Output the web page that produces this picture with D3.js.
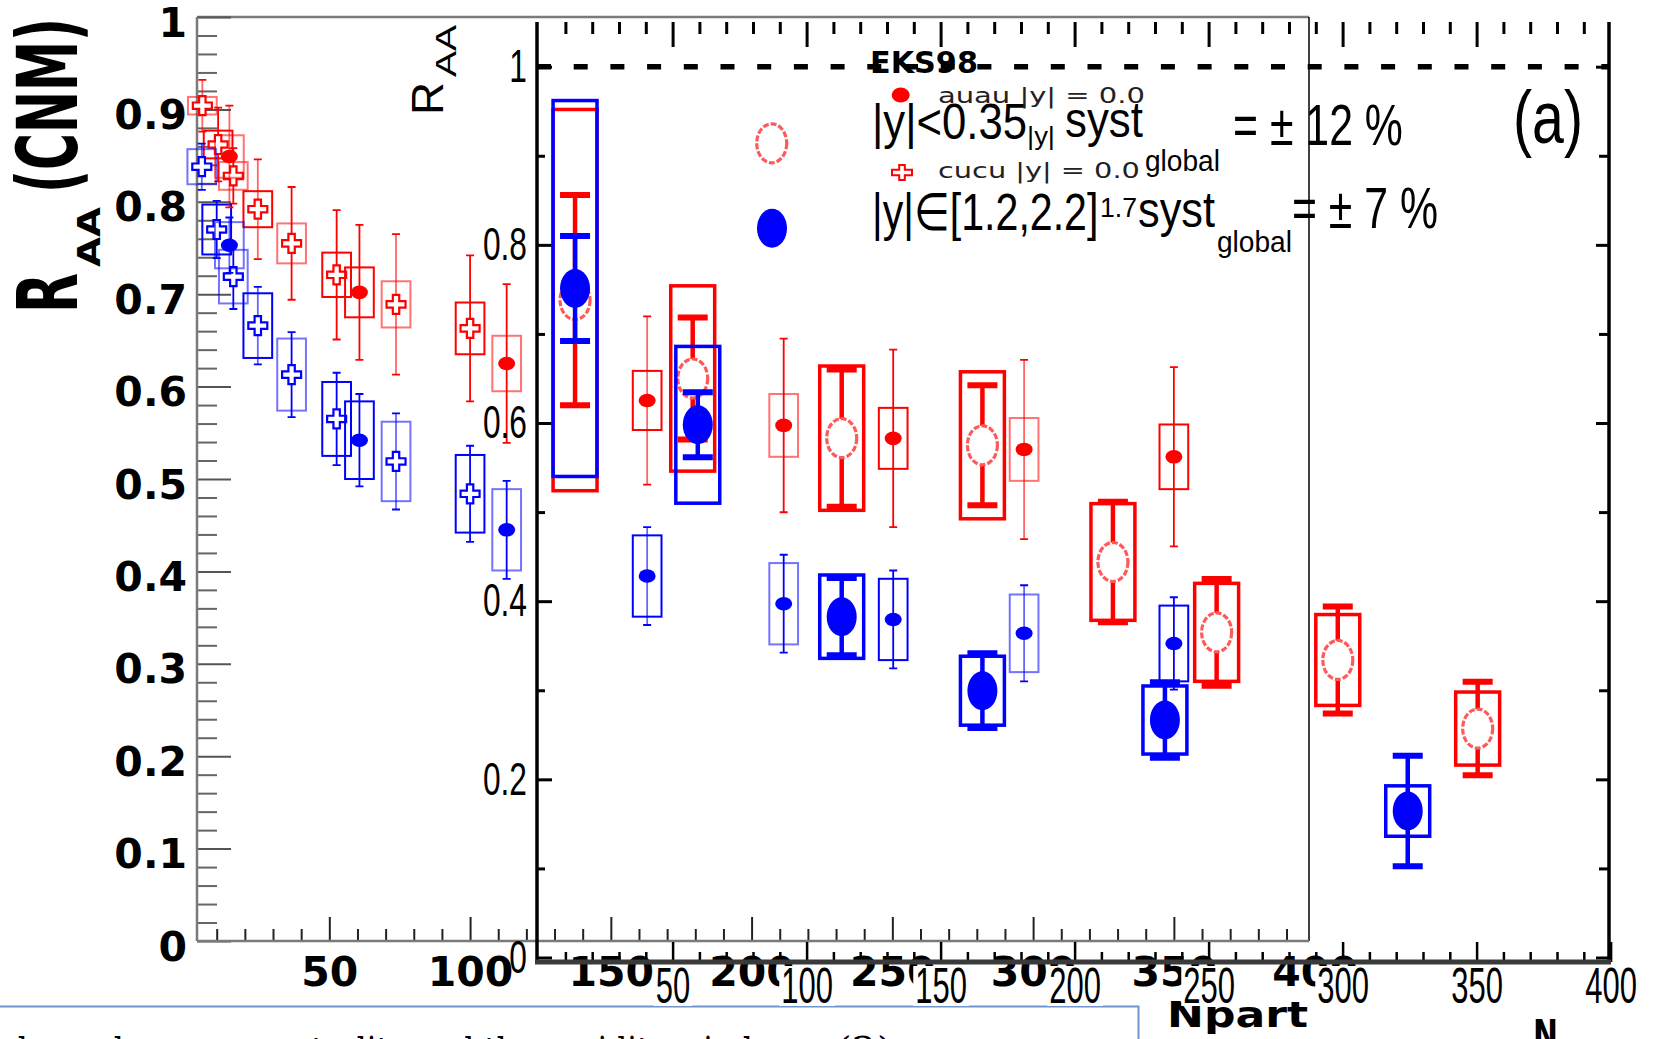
<!DOCTYPE html>
<html>
<head>
<meta charset="utf-8">
<script src="https://cdn.jsdelivr.net/npm/d3@7"></script>
<style>
  html, body { margin: 0; padding: 0; background: #fff; overflow: hidden; }
  svg { display: block; }
</style>
</head>
<body>
<svg id="chart" width="1656" height="1039"></svg>
<script>
// ---------------- data ----------------
// Panel A (CNM, small markers): Cu+Cu crosses, Au+Au filled circles
const cuMidNpart = [4.9, 10.5, 15.9, 24.6, 36.6, 52.6, 73.7, 100];
const cuMidRaa   = [0.904, 0.862, 0.828, 0.792, 0.755, 0.721, 0.689, 0.663];
const cuMidStat  = [0.028, 0.040, 0.030, 0.054, 0.061, 0.070, 0.076, 0.079];
const cuMidSyst  = [0.0095, 0.015, 0.015, 0.0195, 0.0216, 0.024, 0.025, 0.028];

const cuFwdNpart = [4.7, 10, 15.9, 24.6, 36.6, 52.6, 73.7, 100];
const cuFwdRaa   = [0.838, 0.770, 0.719, 0.666, 0.613, 0.565, 0.519, 0.484];
const cuFwdStat  = [0.025, 0.031, 0.035, 0.042, 0.046, 0.050, 0.052, 0.052];
const cuFwdSyst  = [0.019, 0.027, 0.029, 0.035, 0.039, 0.040, 0.043, 0.042];

const auNpart    = [14.5, 60.7, 113, 162.9, 211.4, 250.3, 296.8, 350];
const auMidRaa   = [0.849, 0.702, 0.625, 0.585, 0.558, 0.544, 0.532, 0.524];
const auMidStat  = [0.055, 0.073, 0.086, 0.091, 0.094, 0.096, 0.097, 0.097];
const auMidSyst  = [0.023, 0.027, 0.030, 0.032, 0.034, 0.033, 0.034, 0.035];
const auFwdRaa   = [0.753, 0.542, 0.445, 0.395, 0.365, 0.348, 0.333, 0.322];
const auFwdStat  = [0.030, 0.050, 0.053, 0.053, 0.053, 0.053, 0.052, 0.050];
const auFwdSyst  = [0.025, 0.042, 0.044, 0.044, 0.044, 0.044, 0.042, 0.041];

// Panel B (large markers): |y|<0.35 open circles, |y| in [1.2,2.2] filled circles
const midNpart = [13.6, 57.5, 113.1, 165.6, 214.3, 253.0, 298.2, 350.4];
const midRaa   = [0.738, 0.650, 0.583, 0.575, 0.444, 0.365, 0.334, 0.257];
const midStat  = [0.118, 0.0685, 0.077, 0.0674, 0.0677, 0.060, 0.060, 0.0525];
const midSyst  = [0.214, 0.104, 0.081, 0.0825, 0.0655, 0.055, 0.051, 0.041];

const fwdNpart = [13.6, 59.4, 113.1, 165.6, 233.7, 324.3];
const fwdRaa   = [0.751, 0.598, 0.3826, 0.2995, 0.2666, 0.1644];
const fwdStat  = [0.059, 0.0365, 0.0434, 0.042, 0.0424, 0.062];
const fwdSyst  = [0.211, 0.088, 0.0468, 0.0387, 0.0382, 0.0283];

// axis ticks
const xATickLabels = [50, 100, 150, 200, 250, 300, 350, 400];
const yATickLabels = [0, 0.1, 0.2, 0.3, 0.4, 0.5, 0.6, 0.7, 0.8, 0.9, 1];
const xBTickLabels = [50, 100, 150, 200, 250, 300, 350, 400];
const yBTickLabels = [0, 0.2, 0.4, 0.6, 0.8, 1];

// ---------------- setup ----------------
const svg = d3.select("#chart");
const RED = "#ff0000", BLUE = "#0000ff";
const BOLD = "'DejaVu Sans', sans-serif";
const SANS = "'Liberation Sans', Arial, sans-serif";

const xA = d3.scaleLinear().domain([3, 398]).range([197, 1309]);
const yA = d3.scaleLinear().domain([0, 1]).range([941, 17]);
const xB = d3.scaleLinear().domain([0, 400]).range([538.6, 1610.6]);
const yB = d3.scaleLinear().domain([0, 1]).range([957.5, 66.7]);

const fmtTick = d => d === 0 ? "0" : d === 1 ? "1" : d3.format(".1f")(d);

// text squeezed/stretched horizontally to a given width
function fitText(parent, str, x, y, o) {
  const t = parent.append("text").text(str)
    .attr("font-family", o.family || SANS)
    .attr("font-size", o.size)
    .attr("font-weight", o.weight || "normal")
    .attr("text-anchor", o.anchor || "start")
    .attr("fill", o.fill || "#000");
  let sx = o.sx || 1;
  if (o.width) sx = o.width / t.node().getComputedTextLength();
  t.attr("transform", `translate(${x},${y}) scale(${sx},1)`);
  return t;
}

function crossPath(w, h, a) {
  return `M${-a},${-h}H${a}V${-a}H${w}V${a}H${a}V${h}H${-a}V${a}H${-w}V${-a}H${-a}Z`;
}

// ---------------- page footer (text below the figure) ----------------
svg.append("path").attr("d", "M0,1006.5H1138.5V1039")
  .attr("fill", "none").attr("stroke", "#6f96cc").attr("stroke-width", 2);
fitText(svg, "dependence on centrality and the rapidity window", 8, 1065,
  { family: "'DejaVu Serif', serif", size: 40, width: 790 });
svg.append("text").attr("x", 836).attr("y", 1065)
  .attr("font-family", "'DejaVu Serif', serif").attr("font-size", 40).text("(2)");

// ---------------- panel A axes ----------------
const gA = svg.append("g");
gA.append("line").attr("x1", xA.range()[0]).attr("x2", xA.range()[1]).attr("y1", yA(1)).attr("y2", yA(1))
  .attr("stroke", "#7a7a7a").attr("stroke-width", 2.5);
gA.append("line").attr("x1", xA.range()[1]).attr("x2", xA.range()[1]).attr("y1", yA(1)).attr("y2", yA(0))
  .attr("stroke", "#000").attr("stroke-width", 1.5);

const yAMinor = d3.range(0, 51).map(i => i / 50).filter((v, i) => i % 5 !== 0);
gA.append("g").attr("transform", `translate(${xA.range()[0]},0)`)
  .call(d3.axisLeft(yA).tickValues(yAMinor).tickSizeInner(-20).tickSizeOuter(0).tickFormat(""))
  .call(g => g.select(".domain").remove())
  .selectAll("line").attr("stroke", "#666").attr("stroke-width", 2);
gA.append("g").attr("transform", `translate(${xA.range()[0]},0)`)
  .call(d3.axisLeft(yA).tickValues(yATickLabels).tickSizeInner(-34).tickSizeOuter(0).tickPadding(10).tickFormat(fmtTick))
  .call(g => g.select(".domain").remove())
  .call(g => g.selectAll("line").attr("stroke", "#555").attr("stroke-width", 2))
  .selectAll("text").attr("y", 6)
  .attr("font-family", BOLD).attr("font-weight", "bold").attr("font-size", 41).attr("fill", "#000");

const xAMinor = d3.range(10, 400, 10).filter(v => v % 50 !== 0);
gA.append("g").attr("transform", `translate(0,${yA(0)})`)
  .call(d3.axisBottom(xA).tickValues(xAMinor).tickSizeInner(-12).tickSizeOuter(0).tickFormat(""))
  .call(g => g.select(".domain").remove())
  .selectAll("line").attr("stroke", "#222").attr("stroke-width", 2);
gA.append("g").attr("transform", `translate(0,${yA(0)})`)
  .call(d3.axisBottom(xA).tickValues(xATickLabels).tickSizeInner(-24).tickSizeOuter(0).tickPadding(16))
  .call(g => g.select(".domain").remove())
  .call(g => g.selectAll("line").attr("stroke", "#222").attr("stroke-width", 2)
    .attr("opacity", d => d > xA.domain()[1] ? 0 : 1))
  .selectAll("text")
  .attr("font-family", BOLD).attr("font-weight", "bold").attr("font-size", 41).attr("fill", "#000");

gA.append("line").attr("x1", xA.range()[0]).attr("x2", xA.range()[0]).attr("y1", yA(1)).attr("y2", yA(0))
  .attr("stroke", "#7a7a7a").attr("stroke-width", 2.5);
gA.append("line").attr("x1", xA.range()[0]).attr("x2", xA.range()[1]).attr("y1", yA(0)).attr("y2", yA(0))
  .attr("stroke", "#7a7a7a").attr("stroke-width", 2.5);

// panel A titles
const titleA = svg.append("g").attr("transform", "translate(77,313) rotate(-90)");
fitText(titleA, "R", 0, 0, { family: BOLD, weight: "bold", size: 84, width: 40 });
fitText(titleA, "AA", 46, 23, { family: BOLD, weight: "bold", size: 32, width: 60 });
fitText(titleA, "(CNM)", 120, 0, { family: BOLD, weight: "bold", size: 84, width: 175 });
fitText(svg, "Npart", 1167, 1027, { family: BOLD, weight: "bold", size: 36, width: 141 });

// ---------------- panel A data ----------------
function drawThinSeries(xs, ys, stat, syst, color, marker) {
  const rows = xs.map((x, i) => ({ x, y: ys[i], e: stat[i], s: syst[i] }));
  const g = svg.append("g");
  const hw = 5.1;
  g.append("g").selectAll("rect").data(rows).join("rect")
    .attr("x", d => xA(d.x - hw)).attr("width", d => xA(d.x + hw) - xA(d.x - hw))
    .attr("y", d => yA(d.y + d.s)).attr("height", d => yA(d.y - d.s) - yA(d.y + d.s))
    .attr("fill", "none").attr("stroke", color).attr("stroke-width", 2)
    .attr("stroke-opacity", (d, i) => i % 2 ? 1 : 0.55);
  g.append("g").selectAll("line").data(rows).join("line")
    .attr("x1", d => xA(d.x)).attr("x2", d => xA(d.x))
    .attr("y1", d => yA(d.y + d.e)).attr("y2", d => yA(d.y - d.e))
    .attr("stroke", color).attr("stroke-width", 1.8)
    .attr("stroke-opacity", (d, i) => i % 3 === 0 ? 0.6 : 1);
  g.append("g").selectAll("path").data(rows).join("path")
    .attr("d", d => `M${xA(d.x) - 4},${yA(d.y + d.e)}H${xA(d.x) + 4}M${xA(d.x) - 4},${yA(d.y - d.e)}H${xA(d.x) + 4}`)
    .attr("stroke", color).attr("stroke-width", 1.8).attr("fill", "none");
  if (marker === "cross") {
    g.append("g").selectAll("path").data(rows).join("path")
      .attr("transform", d => `translate(${xA(d.x)},${yA(d.y)})`)
      .attr("d", crossPath(9.5, 9.5, 3.2))
      .attr("fill", "#fff").attr("stroke", color).attr("stroke-width", 2.2);
  } else {
    g.append("g").selectAll("ellipse").data(rows).join("ellipse")
      .attr("cx", d => xA(d.x)).attr("cy", d => yA(d.y))
      .attr("rx", 8.5).attr("ry", 6.8).attr("fill", color);
  }
}
drawThinSeries(cuMidNpart, cuMidRaa, cuMidStat, cuMidSyst, RED, "cross");
drawThinSeries(cuFwdNpart, cuFwdRaa, cuFwdStat, cuFwdSyst, BLUE, "cross");
drawThinSeries(auNpart, auMidRaa, auMidStat, auMidSyst, RED, "dot");
drawThinSeries(auNpart, auFwdRaa, auFwdStat, auFwdSyst, BLUE, "dot");

// ---------------- panel B axes ----------------
const gB = svg.append("g");
const bL = xB.range()[0] - 1.6, bR = xB.range()[1] - 1.6, bTop = 22, bBot = 962;

const xBMinor = d3.range(10, 400, 10).filter(v => v % 50 !== 0);
const xBMajorTop = [50, 100, 150, 200, 250, 300, 350];
const tickStyle = (sel, w) => sel.selectAll("line").attr("stroke", "#000").attr("stroke-width", w);

gB.append("g").attr("transform", `translate(0,${bTop})`)
  .call(d3.axisTop(xB).tickValues(xBMinor).tickSizeInner(-12).tickSizeOuter(0).tickFormat(""))
  .call(g => g.select(".domain").remove()).call(g => tickStyle(g, 3));
gB.append("g").attr("transform", `translate(0,${bTop})`)
  .call(d3.axisTop(xB).tickValues(xBMajorTop).tickSizeInner(-25).tickSizeOuter(0).tickFormat(""))
  .call(g => g.select(".domain").remove()).call(g => tickStyle(g, 3));

gB.append("g").attr("transform", `translate(0,${bBot})`)
  .call(d3.axisBottom(xB).tickValues(xBMinor).tickSizeInner(-10).tickSizeOuter(0).tickFormat(""))
  .call(g => g.select(".domain").remove()).call(g => tickStyle(g, 2.5));
const xBAxis = gB.append("g").attr("transform", `translate(0,${bBot})`)
  .call(d3.axisBottom(xB).tickValues(xBTickLabels).tickSizeInner(-20).tickSizeOuter(0).tickPadding(5))
  .call(g => g.select(".domain").remove()).call(g => tickStyle(g, 2.5));
xBAxis.selectAll("text")
  .attr("font-family", SANS).attr("font-size", 50).attr("fill", "#000")
  .attr("transform", "scale(0.62,1)");
xBAxis.selectAll(".tick").each(function () {
  const t = d3.select(this).select("text");
  const w = t.node().getComputedTextLength() * 0.62;
  d3.select(this).insert("rect", "text")
    .attr("x", -w / 2 - 2).attr("y", 4).attr("width", w + 4).attr("height", 40).attr("fill", "#fff");
});

const yBMinor = [0.1, 0.3, 0.5, 0.7, 0.9];
gB.append("g").attr("transform", `translate(${bL},0)`)
  .call(d3.axisLeft(yB).tickValues(yBMinor).tickSizeInner(-8).tickSizeOuter(0).tickFormat(""))
  .call(g => g.select(".domain").remove()).call(g => tickStyle(g, 3));
gB.append("g").attr("transform", `translate(${bL},0)`)
  .call(d3.axisLeft(yB).tickValues(yBTickLabels).tickSizeInner(-15).tickSizeOuter(0).tickPadding(10).tickFormat(fmtTick))
  .call(g => g.select(".domain").remove()).call(g => tickStyle(g, 3))
  .selectAll("text")
  .attr("font-family", SANS).attr("font-size", 46).attr("fill", "#000")
  .attr("x", -10 / 0.69).attr("transform", "scale(0.69,1)");
gB.append("g").attr("transform", `translate(${bR},0)`)
  .call(d3.axisRight(yB).tickValues(yBMinor).tickSizeInner(-10).tickSizeOuter(0).tickFormat(""))
  .call(g => g.select(".domain").remove()).call(g => tickStyle(g, 3));
gB.append("g").attr("transform", `translate(${bR},0)`)
  .call(d3.axisRight(yB).tickValues(yBTickLabels).tickSizeInner(-13).tickSizeOuter(0).tickFormat(""))
  .call(g => g.select(".domain").remove()).call(g => tickStyle(g, 3));

gB.append("line").attr("x1", bL).attr("x2", bL).attr("y1", bTop).attr("y2", bBot)
  .attr("stroke", "#000").attr("stroke-width", 3.5);
gB.append("line").attr("x1", bR).attr("x2", bR).attr("y1", bTop).attr("y2", bBot)
  .attr("stroke", "#000").attr("stroke-width", 3.5);
gB.append("line").attr("x1", bL - 2).attr("x2", bR + 2).attr("y1", bBot).attr("y2", bBot)
  .attr("stroke", "#3a3a3a").attr("stroke-width", 5);

// panel B titles
const titleB = svg.append("g").attr("transform", "translate(443,115) rotate(-90)");
fitText(titleB, "R", 0, 0, { size: 44, width: 33 });
fitText(titleB, "AA", 38, 13, { size: 30, width: 52 });
fitText(svg, "N", 1533, 1049, { family: BOLD, weight: "bold", size: 40, width: 25 });
fitText(svg, "part", 1560, 1062, { family: BOLD, weight: "bold", size: 26, width: 50 });

// EKS98 reference line at unity
svg.append("line").attr("x1", bL).attr("x2", bR).attr("y1", yB(1)).attr("y2", yB(1))
  .attr("stroke", "#000").attr("stroke-width", 5.5).attr("stroke-dasharray", "14 22.7");
fitText(svg, "EKS98", 870, 73, { family: BOLD, weight: "bold", size: 30, width: 108 });

// ---------------- panel B data ----------------
function openRing(sel) {
  return sel.attr("fill", "#fff").attr("stroke", "#ff5a5a").attr("stroke-width", 3.2)
    .attr("stroke-dasharray", "6 2");
}
function drawThickSeries(xs, ys, stat, syst, color, filled) {
  const rows = xs.map((x, i) => ({ x, y: ys[i], e: stat[i], s: syst[i] }));
  const g = svg.append("g");
  const hw = 8.2;
  g.append("g").selectAll("rect").data(rows).join("rect")
    .attr("x", d => xB(d.x - hw)).attr("width", d => xB(d.x + hw) - xB(d.x - hw))
    .attr("y", d => yB(d.y + d.s)).attr("height", d => yB(d.y - d.s) - yB(d.y + d.s))
    .attr("fill", "none").attr("stroke", color).attr("stroke-width", 3.5);
  g.append("g").selectAll("line").data(rows).join("line")
    .attr("x1", d => xB(d.x)).attr("x2", d => xB(d.x))
    .attr("y1", d => yB(d.y + d.e)).attr("y2", d => yB(d.y - d.e))
    .attr("stroke", color).attr("stroke-width", 4.5);
  g.append("g").selectAll("path").data(rows).join("path")
    .attr("d", d => `M${xB(d.x) - 15},${yB(d.y + d.e)}H${xB(d.x) + 15}M${xB(d.x) - 15},${yB(d.y - d.e)}H${xB(d.x) + 15}`)
    .attr("stroke", color).attr("stroke-width", 6).attr("fill", "none");
  const m = g.append("g").selectAll("ellipse").data(rows).join("ellipse")
    .attr("cx", d => xB(d.x)).attr("cy", d => yB(d.y)).attr("rx", 15).attr("ry", 19.5);
  if (filled) m.attr("fill", color);
  else openRing(m);
}
drawThickSeries(midNpart, midRaa, midStat, midSyst, RED, false);
drawThickSeries(fwdNpart, fwdRaa, fwdStat, fwdSyst, BLUE, true);

// ---------------- legends ----------------
const lg = svg.append("g");
lg.append("ellipse").attr("cx", 900.7).attr("cy", 95).attr("rx", 9).attr("ry", 7.5).attr("fill", RED);
lg.append("path").attr("transform", "translate(902,172.5)").attr("d", crossPath(10, 7.5, 2.8))
  .attr("fill", "#fff").attr("stroke", RED).attr("stroke-width", 2);
openRing(lg.append("ellipse").attr("cx", 771.7).attr("cy", 143.3).attr("rx", 15).attr("ry", 19.5));
lg.append("ellipse").attr("cx", 772).attr("cy", 228.3).attr("rx", 15).attr("ry", 19.5).attr("fill", BLUE);

fitText(lg, "auau |y| = 0.0", 938, 103, { family: BOLD, size: 22, width: 207, fill: "#222" });
fitText(lg, "cucu |y| = 0.0", 938, 178, { family: BOLD, size: 22, width: 202, fill: "#222" });

fitText(lg, "|y|<0.35", 872, 139, { size: 50, width: 155 });
fitText(lg, "|y|", 1027, 145, { size: 26, width: 28 });
fitText(lg, "syst", 1065, 137, { size: 50, width: 78 });
fitText(lg, "global", 1145, 171, { size: 30, width: 75 });
fitText(lg, "= \u00b1 12 %", 1233, 145, { size: 58, width: 170 });

fitText(lg, "|y|\u2208[1.2,2.2]", 872, 230, { size: 52, width: 226 });
fitText(lg, "1.7", 1100, 217, { size: 27, width: 37 });
fitText(lg, "syst", 1138, 227, { size: 50, width: 77 });
fitText(lg, "global", 1217, 252, { size: 30, width: 75 });
fitText(lg, "= \u00b1 7 %", 1292, 228, { size: 58, width: 146 });

fitText(lg, "(a)", 1513, 143, { size: 74, width: 70 });
</script>
</body>
</html>
